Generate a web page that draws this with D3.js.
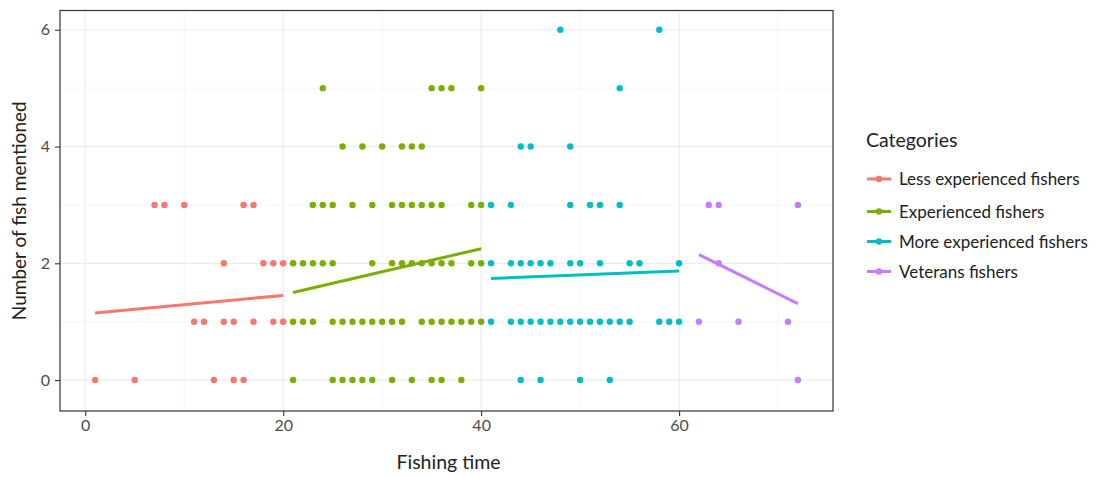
<!DOCTYPE html>
<html>
<head>
<meta charset="utf-8">
<script src="https://cdn.jsdelivr.net/npm/d3@7"></script>
<style>
    body { margin: 0; background: #fff; }
    svg { display: block; font-family: Lato, "Open Sans", sans-serif; }
</style>
</head>
<body>
<div id="chart"></div>
<script>
// categories and colours (ggplot hue defaults)
const categories = ['Less experienced fishers', 'Experienced fishers',
                    'More experienced fishers', 'Veterans fishers'];
const colors = ['#F8766D', '#7CAE00', '#00BFC4', '#C77CFF'];

// points: [fishing time, number of fish]
const lessPts = [
    [7, 3], [8, 3], [10, 3], [16, 3], [17, 3],
    [14, 2], [18, 2], [19, 2], [20, 2],
    [11, 1], [12, 1], [14, 1], [15, 1], [17, 1], [19, 1], [20, 1],
    [1, 0], [5, 0], [13, 0], [15, 0], [16, 0]
];
const expPts = [
    [24, 5], [35, 5], [36, 5], [37, 5], [40, 5],
    [26, 4], [28, 4], [30, 4], [32, 4], [33, 4], [34, 4],
    [23, 3], [24, 3], [25, 3], [27, 3], [29, 3], [31, 3], [32, 3], [33, 3], [34, 3],
    [35, 3], [36, 3], [39, 3], [40, 3],
    [21, 2], [22, 2], [23, 2], [24, 2], [25, 2], [29, 2], [31, 2], [32, 2], [33, 2],
    [34, 2], [35, 2], [36, 2], [37, 2], [39, 2], [40, 2],
    [21, 1], [22, 1], [23, 1], [25, 1], [26, 1], [27, 1], [28, 1], [29, 1], [30, 1],
    [31, 1], [32, 1], [34, 1], [35, 1], [36, 1], [37, 1], [38, 1], [39, 1], [40, 1],
    [21, 0], [25, 0], [26, 0], [27, 0], [28, 0], [29, 0], [31, 0], [33, 0], [35, 0],
    [36, 0], [38, 0]
];
const morePts = [
    [48, 6], [58, 6],
    [54, 5],
    [44, 4], [45, 4], [49, 4],
    [41, 3], [43, 3], [49, 3], [51, 3], [52, 3], [54, 3],
    [41, 2], [43, 2], [44, 2], [45, 2], [46, 2], [47, 2], [49, 2], [50, 2], [52, 2],
    [55, 2], [56, 2], [60, 2],
    [41, 1], [43, 1], [44, 1], [45, 1], [46, 1], [47, 1], [48, 1], [49, 1], [50, 1],
    [51, 1], [52, 1], [53, 1], [54, 1], [55, 1], [58, 1], [59, 1], [60, 1],
    [44, 0], [46, 0], [50, 0], [53, 0]
];
const vetPts = [
    [63, 3], [64, 3], [72, 3],
    [64, 2],
    [62, 1], [66, 1], [71, 1],
    [72, 0]
];

// fitted trend lines, endpoints
const lessFit = [[1, 1.15], [20, 1.45]];
const expFit = [[21, 1.50], [40, 2.25]];
const moreFit = [[41, 1.74], [60, 1.87]];
const vetFit = [[62, 2.15], [72, 1.31]];

const xTicks = [0, 20, 40, 60];
const yTicks = [0, 2, 4, 6];

const series = [
    { name: categories[0], color: colors[0], pts: lessPts, fit: lessFit },
    { name: categories[1], color: colors[1], pts: expPts, fit: expFit },
    { name: categories[2], color: colors[2], pts: morePts, fit: moreFit },
    { name: categories[3], color: colors[3], pts: vetPts, fit: vetFit }
];

const W = 1100, H = 477;
const panel = { left: 60, right: 833, top: 10.5, bottom: 411 };

const svg = d3.select('#chart').append('svg')
    .attr('width', W).attr('height', H);
svg.append('rect').attr('width', W).attr('height', H).attr('fill', '#fff');

const x = d3.scaleLinear().domain([-2.55, 75.55]).range([panel.left, panel.right]);
const y = d3.scaleLinear().domain([-0.53, 6.33]).range([panel.bottom, panel.top]);

// grid
const grid = svg.append('g');
[10, 30, 50, 70].forEach(function(v) {
    grid.append('line').attr('x1', x(v)).attr('x2', x(v))
        .attr('y1', panel.top).attr('y2', panel.bottom)
        .attr('stroke', '#f2f2f2').attr('stroke-width', 0.8);
});
[1, 3, 5].forEach(function(v) {
    grid.append('line').attr('x1', panel.left).attr('x2', panel.right)
        .attr('y1', y(v)).attr('y2', y(v))
        .attr('stroke', '#f2f2f2').attr('stroke-width', 0.8);
});
xTicks.forEach(function(v) {
    grid.append('line').attr('x1', x(v)).attr('x2', x(v))
        .attr('y1', panel.top).attr('y2', panel.bottom)
        .attr('stroke', '#ebebeb').attr('stroke-width', 1.2);
});
yTicks.forEach(function(v) {
    grid.append('line').attr('x1', panel.left).attr('x2', panel.right)
        .attr('y1', y(v)).attr('y2', y(v))
        .attr('stroke', '#ebebeb').attr('stroke-width', 1.2);
});

// points then fit lines
const line = d3.line().x(d => x(d[0])).y(d => y(d[1]));
series.forEach(function(s) {
    svg.append('g').selectAll('circle')
        .data(s.pts).enter().append('circle')
        .attr('cx', d => x(d[0])).attr('cy', d => y(d[1]))
        .attr('r', 3.2).attr('fill', s.color);
});
series.forEach(function(s) {
    svg.append('path').datum(s.fit)
        .attr('d', line).attr('fill', 'none')
        .attr('stroke', s.color).attr('stroke-width', 3);
});

// axes
const xAxis = svg.append('g')
    .attr('transform', 'translate(0,' + panel.bottom + ')')
    .call(d3.axisBottom(x).tickValues(xTicks).tickSize(5).tickPadding(4)
        .tickFormat(d3.format('d')));
const yAxis = svg.append('g')
    .attr('transform', 'translate(' + panel.left + ',0)')
    .call(d3.axisLeft(y).tickValues(yTicks).tickSize(5).tickPadding(5)
        .tickFormat(d3.format('d')));
[xAxis, yAxis].forEach(function(a) {
    a.select('.domain').remove();
    a.selectAll('line').attr('stroke', '#333').attr('stroke-width', 1.1);
    a.selectAll('text').attr('fill', '#4d4d4d')
        .style('font-size', '16px').style('font-family', 'Lato, sans-serif');
});

// panel border
svg.append('rect')
    .attr('x', panel.left).attr('y', panel.top)
    .attr('width', panel.right - panel.left).attr('height', panel.bottom - panel.top)
    .attr('fill', 'none').attr('stroke', '#333').attr('stroke-width', 1.2);

// titles
svg.append('text')
    .attr('x', (panel.left + panel.right) / 2 + 2).attr('y', 469)
    .attr('text-anchor', 'middle').attr('fill', '#222')
    .style('font-size', '19.5px').text('Fishing time');
svg.append('text')
    .attr('transform', 'translate(26,' + (panel.top + panel.bottom) / 2 + ') rotate(-90)')
    .attr('text-anchor', 'middle').attr('fill', '#222')
    .style('font-size', '19px').text('Number of fish mentioned');

// legend
const legend = svg.append('g').attr('transform', 'translate(866,0)');
legend.append('text').attr('x', 0).attr('y', 147)
    .attr('fill', '#222').style('font-size', '19.5px').text('Categories');
const rowY = [179, 211.5, 241.5, 271.5];
series.forEach(function(s, i) {
    const row = legend.append('g').attr('transform', 'translate(0,' + rowY[i] + ')');
    row.append('line').attr('x1', 1).attr('x2', 25)
        .attr('stroke', s.color).attr('stroke-width', 3);
    row.append('circle').attr('cx', 13).attr('r', 3.2).attr('fill', s.color);
    row.append('text').attr('x', 33).attr('y', 6)
        .attr('fill', '#222').style('font-size', '17px').text(s.name);
});
</script>
</body>
</html>
